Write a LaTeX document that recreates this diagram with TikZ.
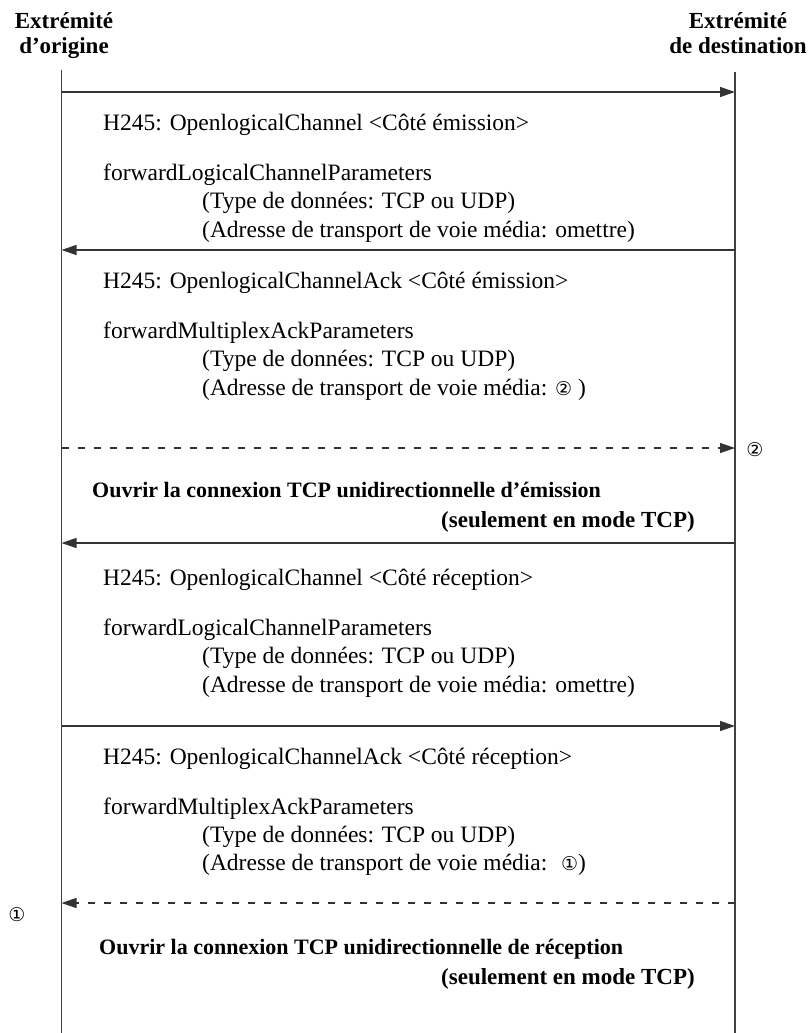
\documentclass[tikz,border=0pt]{standalone}
\usepackage{fontspec}
\setmainfont{Liberation Serif}
\newfontfamily\circfont{DejaVu Sans}
\usetikzlibrary{arrows.meta}

\newcommand{\cnum}[1]{{\circfont\fontsize{19}{21}\selectfont #1}}

\begin{document}
\begin{tikzpicture}[x=1pt, y=-1pt,
  font=\fontsize{23.5}{28}\selectfont,
  life/.style={line width=1.3pt, draw=black!75},
  msg/.style={-{Triangle[length=15pt, width=10pt]}, line width=1.3pt, draw=black!80},
  dmsg/.style={msg, dash pattern=on 7pt off 9pt},
  txt/.style={anchor=base west, inner sep=0pt},
  btxt/.style={txt, font=\fontsize{22}{27}\selectfont\bfseries},
  bnote/.style={anchor=base east, inner sep=0pt, font=\fontsize{23}{27}\selectfont\bfseries},
  head/.style={align=center, inner sep=0pt, font=\fontsize{23}{25}\selectfont\bfseries}]
\useasboundingbox (0,0) rectangle (811,1033);

% entites
\node[head, anchor=north] (ho) at (64,12) {Extrémité\\d'origine};
\node[head, anchor=north] (hd) at (738,12) {Extrémité\\de destination};

% lignes de vie
\coordinate (otop) at (61.5,70);
\coordinate (obot) at (61.5,1033);
\coordinate (dtop) at (735,72);
\coordinate (dbot) at (735,1033);
\draw[life] (otop) -- (obot);
\draw[life] (dtop) -- (dbot);

% points des messages
\coordinate (o1) at (61.5,92);   \coordinate (d1) at (735,92);
\coordinate (o2) at (61.5,250);  \coordinate (d2) at (735,250);
\coordinate (o3) at (61.5,448);  \coordinate (d3) at (735,448);
\coordinate (o4) at (61.5,543);  \coordinate (d4) at (735,543);
\coordinate (o5) at (61.5,726);  \coordinate (d5) at (735,726);
\coordinate (o6) at (61.5,903);  \coordinate (d6) at (735,903);

\draw[msg] (o1) -- (d1);
\node[txt] (m1a) at (103,130) {H245: OpenlogicalChannel <Côté émission>};
\node[txt] (m1b) at (103,180) {forwardLogicalChannelParameters};
\node[txt] (m1c) at (202,208) {(Type de données: TCP ou UDP)};
\node[txt] (m1d) at (202,237) {(Adresse de transport de voie média: omettre)};

\draw[msg] (d2) -- (o2);
\node[txt] (m2a) at (103,288) {H245: OpenlogicalChannelAck <Côté émission>};
\node[txt] (m2b) at (103,338) {forwardMultiplexAckParameters};
\node[txt] (m2c) at (202,366) {(Type de données: TCP ou UDP)};
\node[txt] (m2d) at (202,395) {(Adresse de transport de voie média: \cnum{②} )};

\draw[dmsg] (o3) -- (d3);
\node[anchor=center, inner sep=0pt] (c2) at (755,450) {\cnum{②}};
\node[btxt] (m3a) at (92,497) {Ouvrir la connexion TCP unidirectionnelle d'émission};
\node[bnote] (m3b) at (695,527) {(seulement en mode TCP)};

\draw[msg] (d4) -- (o4);
\node[txt] (m4a) at (103,585) {H245: OpenlogicalChannel <Côté réception>};
\node[txt] (m4b) at (103,635) {forwardLogicalChannelParameters};
\node[txt] (m4c) at (202,663) {(Type de données: TCP ou UDP)};
\node[txt] (m4d) at (202,692) {(Adresse de transport de voie média: omettre)};

\draw[msg] (o5) -- (d5);
\node[txt] (m5a) at (103,764) {H245: OpenlogicalChannelAck <Côté réception>};
\node[txt] (m5b) at (103,814) {forwardMultiplexAckParameters};
\node[txt] (m5c) at (202,842) {(Type de données: TCP ou UDP)};
\node[txt] (m5d) at (202,870) {(Adresse de transport de voie média: \ \cnum{①})};

\draw[dmsg] (d6) -- (o6);
\node[anchor=center, inner sep=0pt] (c1) at (17,915) {\cnum{①}};
\node[btxt] (m6a) at (99,954) {Ouvrir la connexion TCP unidirectionnelle de réception};
\node[bnote] (m6b) at (695,984) {(seulement en mode TCP)};
\end{tikzpicture}
\end{document}
